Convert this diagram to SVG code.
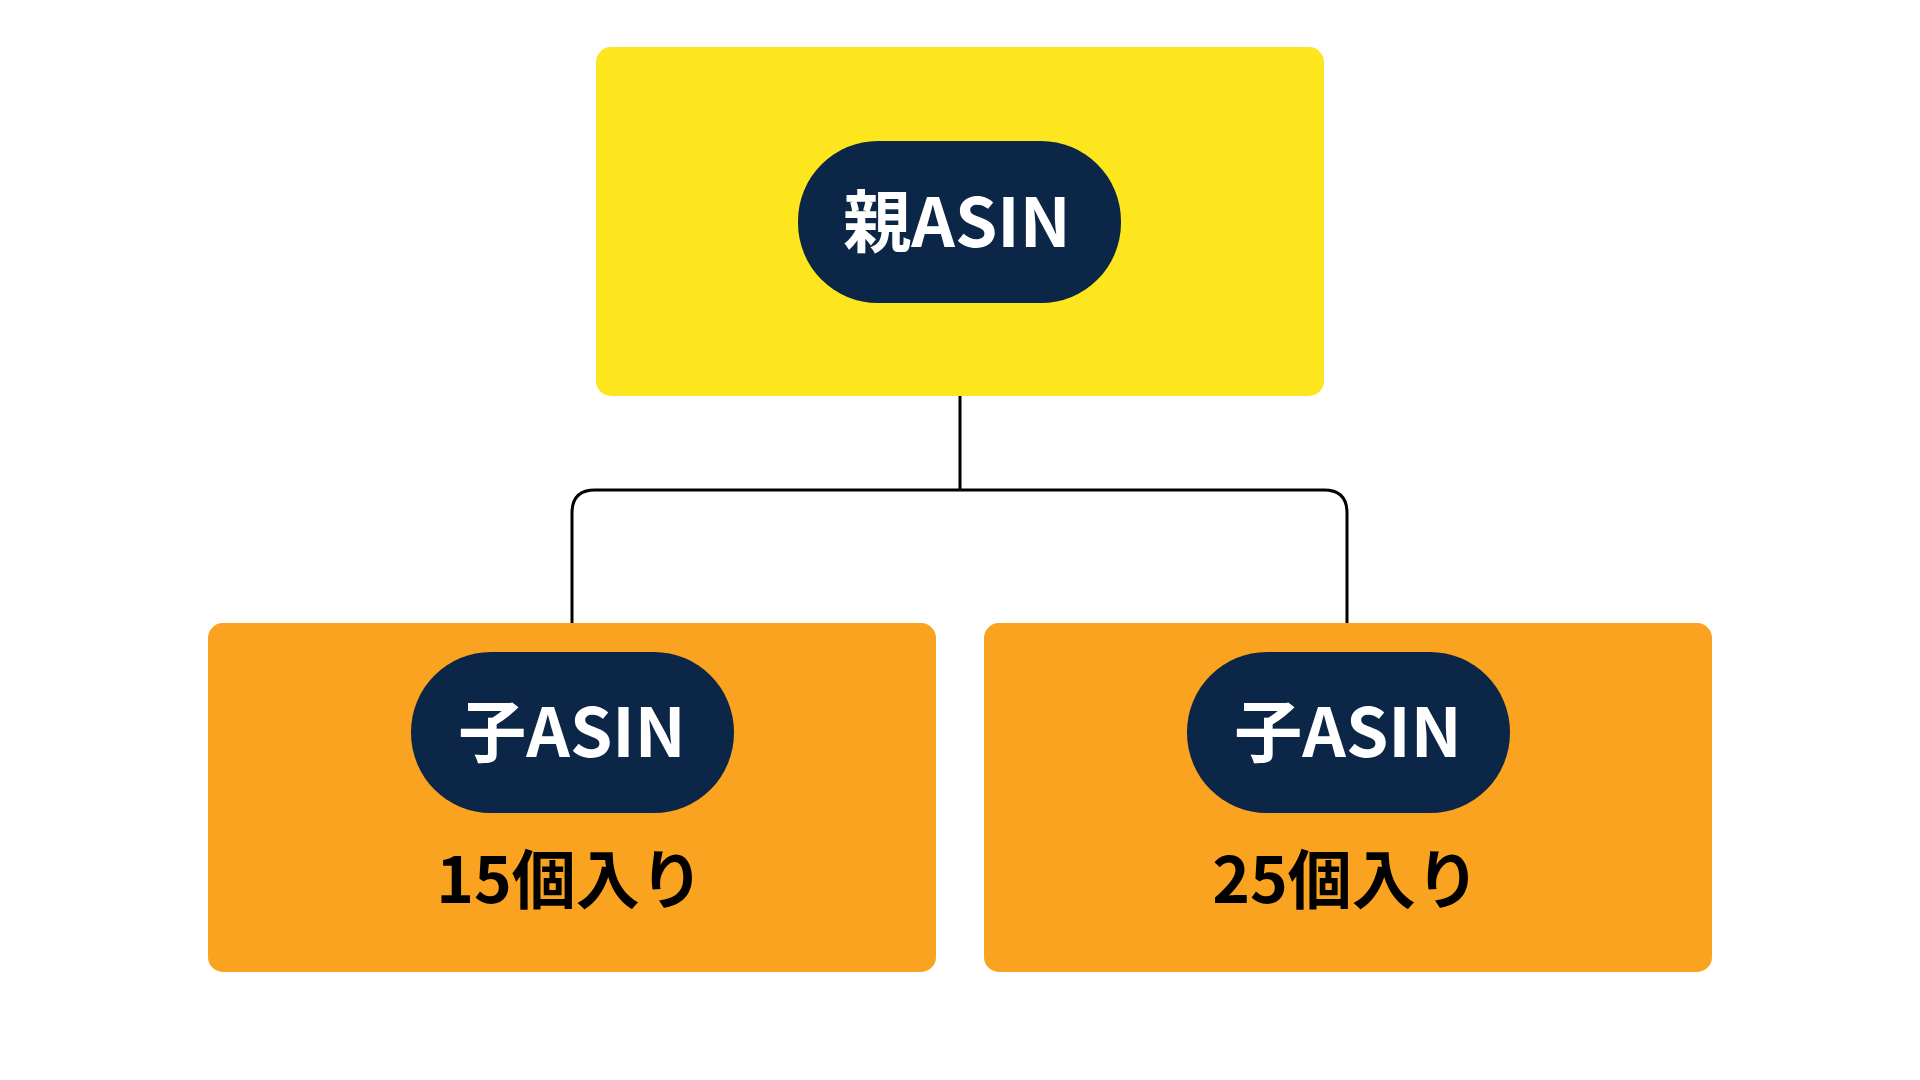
<svg xmlns="http://www.w3.org/2000/svg" width="1920" height="1080" viewBox="0 0 1920 1080">
<style>
.box{stroke:none}
.parent{fill:#FEE61F}
.child{fill:#FAA320}
.pill{fill:#0B2646}
.pt{font-family:"Noto Sans CJK JP","Noto Sans",sans-serif;font-weight:700;font-size:68px;fill:#FFFFFF;text-anchor:middle}
.ct{font-family:"Noto Sans CJK JP","Noto Sans",sans-serif;font-weight:700;font-size:64px;fill:#000000;text-anchor:middle}
.conn{fill:none;stroke:#000000;stroke-width:3}
</style>
<rect width="1920" height="1080" fill="#FFFFFF"/>
<g id="connectors">
<path class="conn" d="M960 396 V490"/>
<path class="conn" d="M572 623 V513 Q572 490 595 490 H1324 Q1347 490 1347 513 V623"/>
</g>
<g id="parent">
<rect class="box parent" x="596" y="47" width="728" height="349" rx="15"/>
<rect class="pill" x="798" y="141" width="323" height="162" rx="80"/>
<text class="pt" x="957" y="247">親ASIN</text>
</g>
<g id="child1">
<rect class="box child" x="208" y="623" width="728" height="349" rx="15"/>
<rect class="pill" x="411" y="652" width="323" height="161" rx="80"/>
<text class="pt" x="572" y="757">子ASIN</text>
<text class="ct" x="570" y="903">15個入り</text>
</g>
<g id="child2">
<rect class="box child" x="984" y="623" width="728" height="349" rx="15"/>
<rect class="pill" x="1187" y="652" width="323" height="161" rx="80"/>
<text class="pt" x="1348" y="757">子ASIN</text>
<text class="ct" x="1346" y="903">25個入り</text>
</g>
</svg>
